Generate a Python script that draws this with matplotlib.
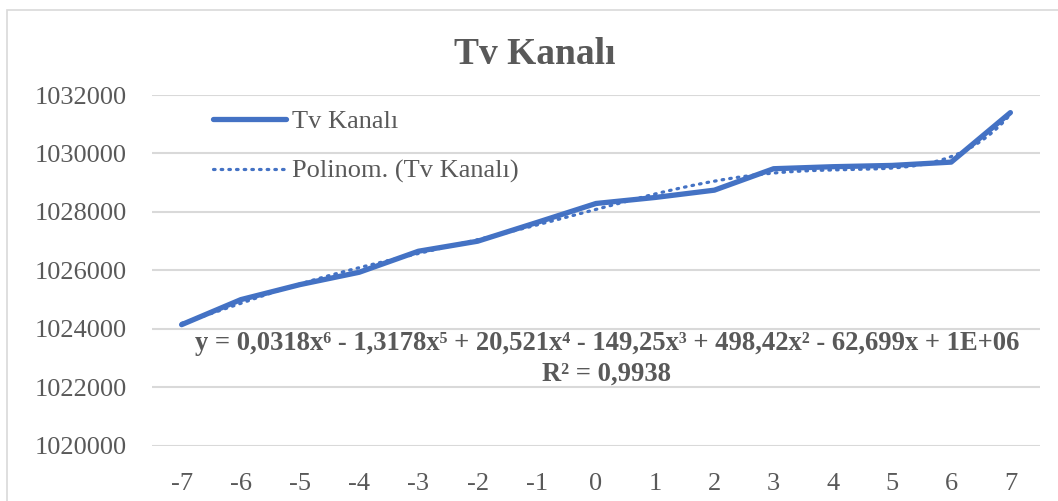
import numpy as np
import matplotlib
matplotlib.use("Agg")
import matplotlib.pyplot as plt
from matplotlib.patches import Rectangle

plt.rcParams['font.family'] = ['Liberation Serif', 'DejaVu Serif']

x_labels = ['-7', '-6', '-5', '-4', '-3', '-2', '-1', '0', '1', '2', '3', '4', '5', '6', '7']
x_vals = [-7, -6, -5, -4, -3, -2, -1, 0, 1, 2, 3, 4, 5, 6, 7]
tv_kanali = [1024137, 1024994, 1025509, 1025931, 1026651, 1026994, 1027635, 1028286,
             1028492, 1028742, 1029476, 1029545, 1029589, 1029702, 1031397]
y_ticks = [1020000, 1022000, 1024000, 1026000, 1028000, 1030000, 1032000]

series_name = 'Tv Kanalı'
trend_name = 'Polinom. (Tv Kanalı)'
equation = 'y = 0,0318x⁶ - 1,3178x⁵ + 20,521x⁴ - 149,25x³ + 498,42x² - 62,699x + 1E+06'
r2_text = 'R² = 0,9938'

blue = '#4472C4'
gray = '#595959'
grid = '#D9D9D9'

fig = plt.figure(figsize=(10.58, 5.01), dpi=100)
fig.patches.append(Rectangle((7/1058, -0.1), 1.2, 1 - 10/501 + 0.1, transform=fig.transFigure,
                             fill=False, edgecolor='#D9D9D9', linewidth=1.2))
ax = fig.add_axes([152/1058, 1 - 445.5/501, (1040 - 152)/1058, (445.5 - 95)/501])

ax.plot(x_vals, tv_kanali, color=blue, lw=3.8, solid_capstyle='round', solid_joinstyle='round',
        label=series_name, zorder=3)

coef = np.polyfit(x_vals, tv_kanali, 6)
xs = np.linspace(min(x_vals), max(x_vals), 300)
ax.plot(xs, np.polyval(coef, xs), color=blue, lw=2.3, linestyle=(0, (0.5, 1.9)),
        dash_capstyle='round', label=trend_name, zorder=4)

ax.set_xlim(-7.5, 7.5)
ax.set_ylim(1020000, 1032000)
ax.set_yticks(y_ticks)
ax.set_yticklabels([str(v) for v in y_ticks])
ax.set_xticks(x_vals)
ax.set_xticklabels(x_labels)
ax.tick_params(axis='both', length=0, labelsize=19, colors=gray)
ax.tick_params(axis='y', pad=18)
ax.tick_params(axis='x', pad=20)
ax.grid(axis='y', color=grid, lw=1.5)
ax.set_axisbelow(True)
for s in ax.spines.values():
    s.set_visible(False)

fig.text(535/1058, 1 - 54/501, series_name, ha='center', va='center', fontsize=27,
         fontweight='bold', color=gray)

leg = ax.legend(loc='upper left', bbox_to_anchor=(50/888, 1 - 4/350), frameon=False,
                fontsize=19, labelcolor=gray, handlelength=2.8, handletextpad=0.2,
                labelspacing=1.0, borderaxespad=0)

ax.text(607/1058, 1 - 343/501, equation, transform=fig.transFigure, ha='center', va='center',
        fontsize=19.2, fontweight='bold', color=gray)
ax.text(607/1058, 1 - 374/501, r2_text, transform=fig.transFigure, ha='center', va='center',
        fontsize=19.2, fontweight='bold', color=gray)

fig.savefig('out.png', dpi=100)
